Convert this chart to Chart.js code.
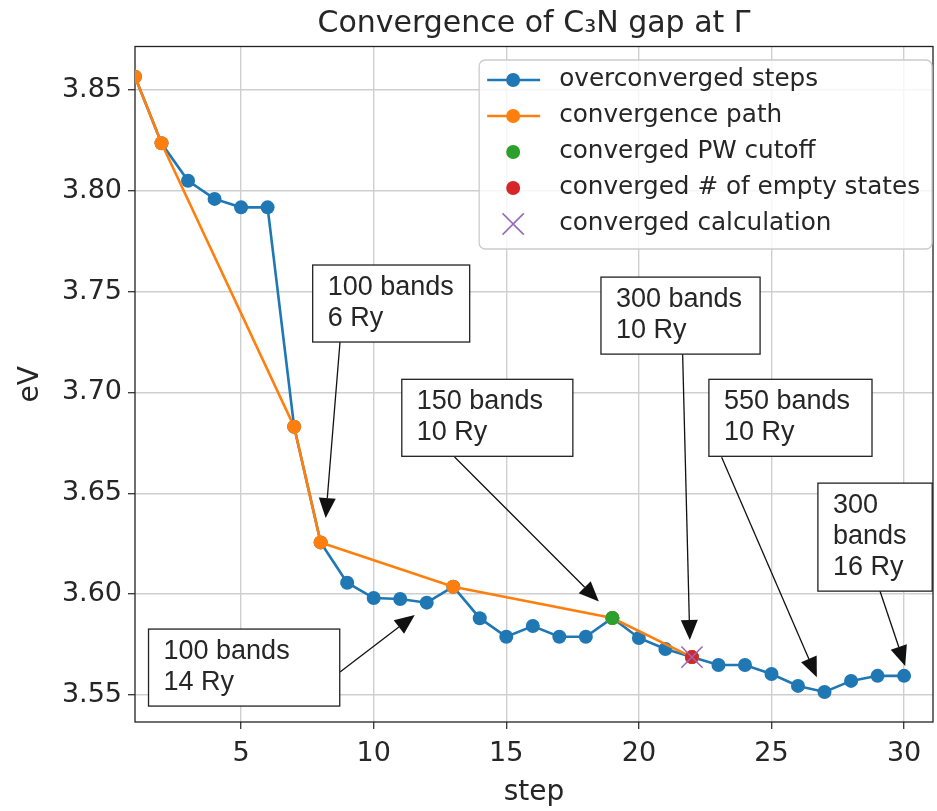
<!DOCTYPE html>
<html>
<head>
<meta charset="utf-8">
<script src="https://cdn.jsdelivr.net/npm/chart.js@4.4.1/dist/chart.umd.min.js"></script>
<style>
  html, body { margin: 0; padding: 0; background: #fff; overflow: hidden; }
  canvas { display: block; }
</style>
</head>
<body>
<canvas id="chart" width="937" height="811"></canvas>
<script>
// values
const steps = [1, 2, 3, 4, 5, 6, 7, 8, 9, 10, 11, 12, 13, 14, 15, 16, 17, 18, 19, 20, 21, 22, 23, 24, 25, 26, 27, 28, 29, 30]
const overconverged = [3.8566, 3.8236, 3.805, 3.796, 3.7918, 3.7918, 3.683, 3.6256, 3.6056, 3.598,
  3.5975, 3.5957, 3.6036, 3.588, 3.5788, 3.5841, 3.5788, 3.5788, 3.5881, 3.5782,
  3.5727, 3.5687, 3.5648, 3.5648, 3.5603, 3.5544, 3.5514, 3.5569, 3.5594, 3.5594]
const pathSteps = [1, 2, 7, 8, 13, 19, 22]
const pathValues = [3.8566, 3.8236, 3.683, 3.6256, 3.6036, 3.5881, 3.5687]
const cutoffSteps = [19]
const cutoffValues = [3.5881]
const emptyStates = [22]
const emptyValues = [3.5687]
const finalSteps = [22]
const finalValues = [3.5687]

const yTicks = [3.55, 3.60, 3.65, 3.70, 3.75, 3.80, 3.85]
const xTicks = [5, 10, 15, 20, 25, 30]

const title = 'Convergence of C₃N gap at Γ'

// text boxes: top-left corner and right edge in data units, arrow from/to in data units
const notes = [
  { lines: ['100 bands', '6 Ry'], box: [7.70, 3.7632, 13.62], from: [8.73, 3.725], to: [8.19, 3.6377] },
  { lines: ['150 bands', '10 Ry'], box: [11.06, 3.7065, 17.51], from: [13.05, 3.668], to: [18.49, 3.5963] },
  { lines: ['100 bands', '14 Ry'], box: [1.51, 3.5826, 8.72], from: [8.73, 3.5613], to: [11.55, 3.5896] },
  { lines: ['300 bands', '10 Ry'], box: [18.57, 3.7572, 24.57], from: [21.65, 3.719], to: [21.92, 3.5772] },
  { lines: ['550 bands', '10 Ry'], box: [22.64, 3.7065, 28.79], from: [23.12, 3.6678], to: [26.71, 3.5587] },
  { lines: ['300', 'bands', '16 Ry'], box: [26.75, 3.655, 31.06], from: [29.09, 3.6015], to: [30.04, 3.5643] },
]

const pts = (xs, ys) => xs.map((x, i) => ({ x, y: ys[i] }))

const blue = '#1f77b4'
const orange = '#ff7f0e'
const green = '#2ca02c'
const red = '#d62728'
const purple = '#9467bd'
const textColor = '#262626'

const framePlugin = {
  id: 'frame',
  beforeDatasetsDraw(chart) {
    const { ctx, chartArea: a } = chart
    ctx.save()
    ctx.strokeStyle = '#222'
    ctx.lineWidth = 1.3
    ctx.strokeRect(a.left, a.top, a.right - a.left, a.bottom - a.top)
    ctx.restore()
  },
  afterDraw(chart) {
    // title centred over the axes, like matplotlib
    const { ctx, chartArea: a } = chart
    ctx.save()
    ctx.font = '30px "DejaVu Sans", sans-serif'
    ctx.fillStyle = textColor
    ctx.textAlign = 'center'
    ctx.textBaseline = 'alphabetic'
    ctx.fillText(title, (a.left + a.right) / 2, 32)
    ctx.restore()
  },
}

const notesPlugin = {
  id: 'notes',
  afterDatasetsDraw(chart) {
    const { ctx } = chart
    const sx = chart.scales.x
    const sy = chart.scales.y
    ctx.save()
    ctx.font = '27px "Liberation Sans", Arial, sans-serif'
    notes.forEach(n => {
      // arrow
      const x0 = sx.getPixelForValue(n.from[0])
      const y0 = sy.getPixelForValue(n.from[1])
      const x1 = sx.getPixelForValue(n.to[0])
      const y1 = sy.getPixelForValue(n.to[1])
      const ang = Math.atan2(y1 - y0, x1 - x0)
      const headLen = 20
      const headW = 8.5
      const bx = x1 - headLen * Math.cos(ang)
      const by = y1 - headLen * Math.sin(ang)
      ctx.strokeStyle = '#111'
      ctx.lineWidth = 1.3
      ctx.beginPath()
      ctx.moveTo(x0, y0)
      ctx.lineTo(bx, by)
      ctx.stroke()
      ctx.fillStyle = '#111'
      ctx.beginPath()
      ctx.moveTo(x1, y1)
      ctx.lineTo(bx + headW * Math.sin(ang), by - headW * Math.cos(ang))
      ctx.lineTo(bx - headW * Math.sin(ang), by + headW * Math.cos(ang))
      ctx.closePath()
      ctx.fill()

      // box
      const left = sx.getPixelForValue(n.box[0])
      const top = sy.getPixelForValue(n.box[1])
      const right = sx.getPixelForValue(n.box[2])
      const h = 30 + (n.lines.length - 1) * 31 + 16
      ctx.fillStyle = '#fff'
      ctx.fillRect(left, top, right - left, h)
      ctx.strokeStyle = '#222'
      ctx.lineWidth = 1.3
      ctx.strokeRect(left, top, right - left, h)
      ctx.fillStyle = textColor
      ctx.textBaseline = 'alphabetic'
      ctx.textAlign = 'left'
      n.lines.forEach((t, i) => ctx.fillText(t, left + 15, top + 30 + i * 31))
    })
    ctx.restore()
  },
}

const legendPlugin = {
  id: 'boxLegend',
  afterDraw(chart) {
    const { ctx, chartArea: a } = chart
    const sets = chart.data.datasets
    ctx.save()
    ctx.font = '24.7px "DejaVu Sans", sans-serif'
    const maxW = Math.max(...sets.map(d => ctx.measureText(d.label).width))
    const w = 80 + maxW + 12
    const h = 20 + (sets.length - 1) * 36 + 25
    const left = a.right - 1 - w
    const top = a.top + 13.5
    ctx.fillStyle = 'rgba(255,255,255,0.8)'
    ctx.strokeStyle = '#cccccc'
    ctx.lineWidth = 1.3
    ctx.beginPath()
    ctx.roundRect(left, top, w, h, 6)
    ctx.fill()
    ctx.stroke()
    sets.forEach((d, i) => {
      const cy = top + 20 + i * 36
      if (d.showLine) {
        ctx.strokeStyle = d.borderColor
        ctx.lineWidth = d.borderWidth
        ctx.beginPath()
        ctx.moveTo(left + 8, cy)
        ctx.lineTo(left + 61, cy)
        ctx.stroke()
      }
      ctx.fillStyle = d.pointBackgroundColor
      ctx.strokeStyle = d.pointBorderColor
      ctx.lineWidth = d.pointBorderWidth
      Chart.helpers.drawPoint(ctx, { pointStyle: d.pointStyle, radius: d.pointRadius, borderWidth: d.pointBorderWidth, rotation: 0 }, left + 34, cy)
      ctx.fillStyle = textColor
      ctx.textBaseline = 'middle'
      ctx.textAlign = 'left'
      ctx.fillText(d.label, left + 80, cy)
    })
    ctx.restore()
  },
}

const lineSet = (label, data, color, order) => ({
  label, data, order,
  showLine: true,
  borderColor: color,
  borderWidth: 2.6,
  pointStyle: 'circle',
  pointRadius: 7,
  pointBackgroundColor: color,
  pointBorderColor: color,
  pointBorderWidth: 0,
  pointHoverRadius: 7,
})

const dotSet = (label, data, color, order) => ({
  label, data, order,
  showLine: false,
  pointStyle: 'circle',
  pointRadius: 7,
  pointBackgroundColor: color,
  pointBorderColor: color,
  pointBorderWidth: 0,
  pointHoverRadius: 7,
})

new Chart(document.getElementById('chart'), {
  type: 'scatter',
  data: {
    datasets: [
      lineSet('overconverged steps', pts(steps, overconverged), blue, 5),
      lineSet('convergence path', pts(pathSteps, pathValues), orange, 4),
      dotSet('converged PW cutoff', pts(cutoffSteps, cutoffValues), green, 3),
      dotSet('converged # of empty states', pts(emptyStates, emptyValues), red, 2),
      {
        label: 'converged calculation',
        data: pts(finalSteps, finalValues),
        order: 1,
        showLine: false,
        pointStyle: 'crossRot',
        pointRadius: 15,
        pointBackgroundColor: purple,
        pointBorderColor: purple,
        pointBorderWidth: 1.5,
        pointHoverRadius: 15,
      },
    ],
  },
  options: {
    responsive: false,
    devicePixelRatio: 1,
    animation: false,
    layout: { autoPadding: false, padding: { left: 0, right: 4, top: 46.5, bottom: 0 } },
    plugins: {
      legend: { display: false },
      tooltip: { enabled: false },
      title: { display: false },
    },
    scales: {
      x: {
        type: 'linear',
        min: 1,
        max: 31.09,
        afterFit: s => {
          s.height = 89
          s.paddingLeft = 0
          s.paddingRight = 0
        },
        afterBuildTicks: s => { s.ticks = xTicks.map(v => ({ value: v })) },
        ticks: {
          color: textColor,
          font: { family: '"DejaVu Sans", sans-serif', size: 27 },
          padding: 9,
          maxRotation: 0,
        },
        grid: { color: '#cfcfcf', lineWidth: 1.4, tickLength: 7, tickColor: '#333', tickWidth: 1.3 },
        border: { display: false },
        title: {
          display: true,
          text: 'step',
          color: textColor,
          font: { family: '"DejaVu Sans", sans-serif', size: 28, lineHeight: 1.2 },
          padding: { top: 0, bottom: 1 },
        },
      },
      y: {
        type: 'linear',
        min: 3.5365,
        max: 3.8716,
        afterFit: s => {
          s.width = 135
          s.paddingTop = 0
          s.paddingBottom = 0
        },
        afterBuildTicks: s => { s.ticks = yTicks.map(v => ({ value: v })) },
        ticks: {
          color: textColor,
          font: { family: '"DejaVu Sans", sans-serif', size: 27 },
          padding: 6,
          callback: v => v.toFixed(2),
        },
        grid: { color: '#cfcfcf', lineWidth: 1.4, tickLength: 7, tickColor: '#333', tickWidth: 1.3 },
        border: { display: false },
        title: {
          display: true,
          text: 'eV',
          color: textColor,
          font: { family: '"DejaVu Sans", sans-serif', size: 28, lineHeight: 1.2 },
          padding: { top: 14, bottom: 0 },
        },
      },
    },
  },
  plugins: [framePlugin, notesPlugin, legendPlugin],
})
</script>
</body>
</html>
